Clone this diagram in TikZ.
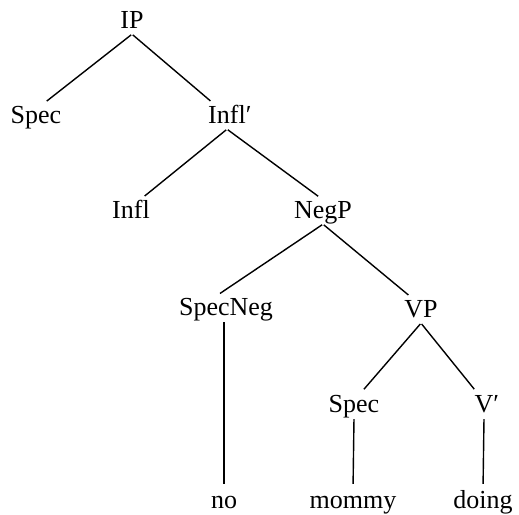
\documentclass[tikz,border=0pt]{standalone}
\usepackage{fontspec}
\setmainfont{Liberation Serif}
\begin{document}
\begin{tikzpicture}[x=1pt,y=-1pt,
  cat/.style={font=\fontsize{26}{30}\selectfont,anchor=base,inner sep=0pt,text height=18pt,text depth=6pt},
  branch/.style={line width=1.4pt,shorten <=1pt,shorten >=6pt}]
\useasboundingbox (0,0) rectangle (519,514);
% the tree, placed by baselines
\node[cat] (ip) at (132,28) {IP};
\node[cat] (spec) at (36,123) {Spec};
\node[cat] (inflbar) at (227,123) {Infl\rlap{′}};
\node[cat] (infl) at (131,218) {Infl};
\node[cat] (negp) at (323,218) {NegP};
\node[cat] (specneg) at (226,315) {SpecNeg};
\node[cat] (vp) at (421,317) {VP};
\node[cat] (specv) at (354,412) {Spec};
\node[cat] (vbar) at (484,412) {V\rlap{′}};
\node[cat] (no) at (224,508) {no};
\node[cat] (mommy) at (353,508) {mommy};
\node[cat] (doing) at (483,508) {doing};
% branches
\draw[branch] (ip.south) -- ([xshift=6pt]spec.north);
\draw[branch] (ip.south) -- ([xshift=-12pt]inflbar.north);
\draw[branch] (inflbar.south) -- ([xshift=9pt]infl.north);
\draw[branch] (inflbar.south) -- (negp.north);
\draw[branch] (negp.south) -- ([xshift=-11pt]specneg.north);
\draw[branch] (negp.south) -- ([xshift=-8pt]vp.north);
\draw[branch] (vp.south) -- ([xshift=6pt]specv.north);
\draw[branch] (vp.south) -- ([xshift=-6pt]vbar.north);
\draw[branch] (specneg.south -| no.north) -- (no.north);
\draw[branch] (specv.south) -- (mommy.north);
\draw[branch] (vbar.south) -- (doing.north);
\end{tikzpicture}
\end{document}
